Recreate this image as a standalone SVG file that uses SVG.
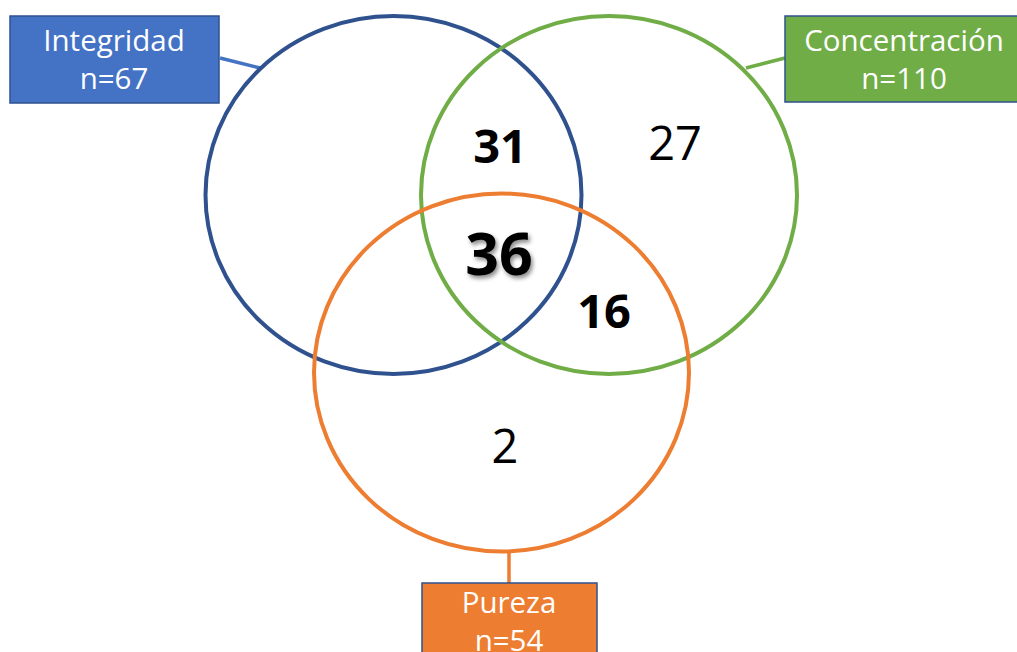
<svg xmlns="http://www.w3.org/2000/svg" width="1017" height="652" viewBox="0 0 1017 652">
<style>
.ring{fill:none;stroke-width:4}
.box{stroke:#2F528F;stroke-width:1.5}
.lbl{font-family:"Open Sans","Liberation Sans",sans-serif;font-size:29.5px;fill:#fff;text-anchor:middle}
.num{font-family:"Open Sans","Liberation Sans",sans-serif;font-size:47px;fill:#000;text-anchor:middle}
.b{font-weight:bold}
.big{font-size:59px}
.conn{stroke-width:3.5;fill:none}
</style>
<defs>
<filter id="sh" x="-20%" y="-20%" width="150%" height="150%">
<feDropShadow dx="2" dy="3" stdDeviation="2" flood-color="#000" flood-opacity="0.45"/>
</filter>
</defs>
<rect width="1017" height="652" fill="#fff"/>
<g id="connectors">
<line class="conn" x1="220" y1="58" x2="260" y2="68" stroke="#4472C4"/>
<line class="conn" x1="785" y1="58" x2="746" y2="68" stroke="#70AD47"/>
<line class="conn" x1="509" y1="552" x2="509" y2="583" stroke="#ED7D31"/>
</g>
<g id="set-integridad">
<ellipse class="ring" cx="393.5" cy="195" rx="188" ry="179" stroke="#2F528F"/>
</g>
<g id="set-concentracion">
<ellipse class="ring" cx="609" cy="195" rx="188" ry="179" stroke="#70AD47"/>
</g>
<g id="set-pureza">
<ellipse class="ring" cx="501.5" cy="372.5" rx="187.5" ry="179" stroke="#ED7D31"/>
</g>
<g id="label-integridad">
<rect class="box" x="10" y="16" width="209" height="87" fill="#4472C4"/>
<text class="lbl" x="114" y="51">Integridad</text>
<text class="lbl" x="114" y="89">n=67</text>
</g>
<g id="label-concentracion">
<rect class="box" x="785" y="16" width="240" height="86" fill="#70AD47"/>
<text class="lbl" x="904" y="51">Concentración</text>
<text class="lbl" x="904" y="89">n=110</text>
</g>
<g id="label-pureza">
<rect class="box" x="422" y="583" width="175" height="80" fill="#ED7D31"/>
<text class="lbl" x="509" y="613">Pureza</text>
<text class="lbl" x="509" y="651">n=54</text>
</g>
<g id="counts">
<text class="num b" x="500" y="163">31</text>
<text class="num" x="675" y="160">27</text>
<text class="num b big" x="499" y="275" filter="url(#sh)">36</text>
<text class="num b" x="604" y="328">16</text>
<text class="num" x="505" y="463">2</text>
</g>
</svg>
